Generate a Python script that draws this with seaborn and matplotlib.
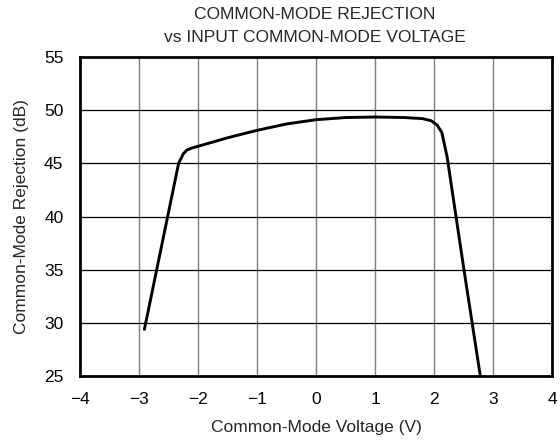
import numpy as np
import pandas as pd
import matplotlib
matplotlib.use("Agg")
import matplotlib.pyplot as plt
import seaborn as sns

# Curve
voltage = [-2.91, -2.33, -2.25, -2.19, -2.10, -2.0, -1.5, -1.0, -0.5, 0.0,
           0.5, 1.0, 1.5, 1.8, 1.95, 2.05, 2.13, 2.22, 2.50, 2.78]
cmr_db = [29.4, 45.0, 45.9, 46.25, 46.45, 46.6, 47.4, 48.1, 48.7, 49.1,
          49.3, 49.35, 49.3, 49.2, 49.0, 48.6, 47.9, 45.6, 35.2, 25.1]

x_ticks = [-4, -3, -2, -1, 0, 1, 2, 3, 4]
y_ticks = [25, 30, 35, 40, 45, 50, 55]
x_tick_labels = ["\u22124", "\u22123", "\u22122", "\u22121", "0", "1", "2", "3", "4"]

FS = 12.5


def main():
    sns.set_theme(style="white")
    plt.rcParams["font.family"] = ["Liberation Sans", "DejaVu Sans"]

    df = pd.DataFrame({"v": voltage, "cmr": cmr_db})

    fig = plt.figure(figsize=(5.6, 4.41), dpi=100)
    ax = fig.add_axes([0.143, 0.147, 0.843, 0.724])

    ax.set_xlim(-4, 4)
    ax.set_ylim(25, 55)
    ax.set_xticks(x_ticks)
    ax.set_xticklabels(x_tick_labels)
    ax.set_yticks(y_ticks)

    # grid: verticals gray, horizontals black
    for xv in x_ticks[1:-1]:
        ax.axvline(xv, color="#7f7f7f", lw=1.0, zorder=1)
    for yv in y_ticks[1:-1]:
        ax.axhline(yv, color="black", lw=0.9, zorder=1)

    sns.lineplot(data=df, x="v", y="cmr", ax=ax, color="black", lw=2.1,
                 zorder=3, sort=False)

    for s in ax.spines.values():
        s.set_visible(True)
        s.set_color("black")
        s.set_linewidth(2.0)

    ax.tick_params(axis="x", labelsize=FS, length=0, pad=11.5, colors="black")
    ax.tick_params(axis="y", labelsize=FS, length=0, pad=12, colors="black")
    ax.set_xlabel("Common-Mode Voltage (V)", fontsize=FS, labelpad=9)
    ax.set_ylabel("Common-Mode Rejection (dB)", fontsize=FS, labelpad=11)

    fig.text(0.5625, 0.957, "COMMON-MODE REJECTION", ha="center",
             va="baseline", fontsize=FS)
    fig.text(0.5625, 0.905, "vs INPUT COMMON-MODE VOLTAGE", ha="center",
             va="baseline", fontsize=FS)

    fig.savefig("out.png", dpi=100)


if __name__ == "__main__":
    main()
